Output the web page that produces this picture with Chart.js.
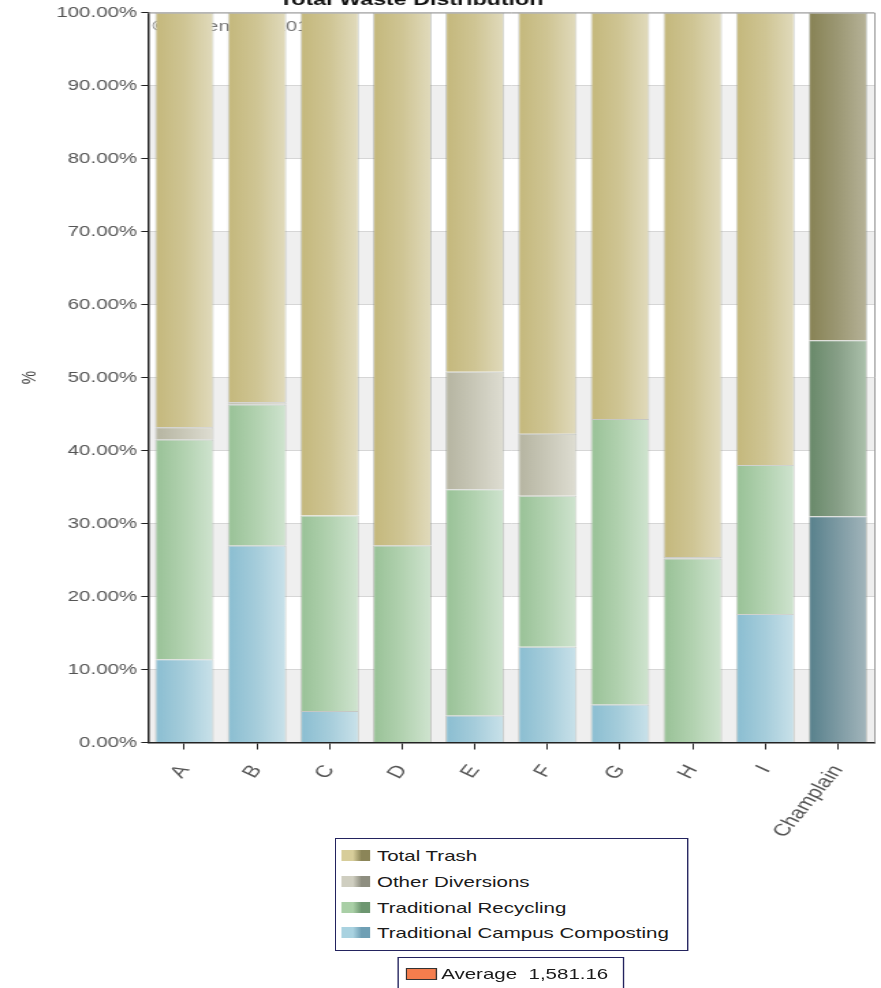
<!DOCTYPE html>
<html>
<head>
<meta charset="utf-8">
<script src="https://cdn.jsdelivr.net/npm/chart.js@4.4.1/dist/chart.umd.min.js"></script>
<style>
  html, body { margin:0; padding:0; background:#fff; overflow:hidden; }
  #wrap { position:absolute; left:0; top:0; width:645px; height:988px; transform:scaleX(1.36589); transform-origin:0 0; font-family:"Liberation Sans", Arial, sans-serif; }
  #c { position:absolute; left:0; top:0; }
  .box { position:absolute; background:#fff; border:1px solid #23235e; box-sizing:border-box; }
  .row { position:absolute; left:4px; height:20px; font-size:15px; color:#1a1a1a; white-space:nowrap; line-height:20px; }
  .sw { position:absolute; left:0; top:4px; width:21px; height:11px; }
  .lbl { position:absolute; left:26px; top:0; }
</style>
</head>
<body>
<div id="wrap">
  <canvas id="c" width="645" height="988" style="width:645px;height:988px"></canvas>
  <div id="legend" class="box" style="left:245px; top:838px; width:259px; height:113px;"></div>
  <div id="avg" class="box" style="left:291px; top:957px; width:166px; height:40px;"></div>
</div>
<script>
// ---------------- data ----------------
const titleText = 'Total Waste Distribution';
const watermarkText = '\u00A9 Green Inc. 2012';
const categories = ['A','B','C','D','E','F','G','H','I','Champlain'];
const seriesNames = ['Traditional Campus Composting','Traditional Recycling','Other Diversions','Total Trash'];
const composting = [11.4, 27.0, 4.3, 0, 3.7, 13.1, 5.2, 0, 17.6, 31.0];
const recycling  = [30.1, 19.3, 26.8, 27.0, 31.0, 20.7, 39.1, 25.2, 20.4, 24.1];
const other      = [1.7, 0.3, 0, 0, 16.1, 8.5, 0, 0.2, 0, 0];
const trash      = [56.8, 53.4, 68.9, 73.0, 49.2, 57.7, 55.7, 74.6, 62.0, 44.9];
const yTicks = [0,10,20,30,40,50,60,70,80,90,100];
const averageLabel = 'Average';
const averageValue = '1,581.16';

// ---------------- styling ----------------
const palettes = {
  compost: { normal:['#8dbfd2','#a6cddb','#cae2ea'], dark:['#5b838e','#7d9aa3','#a3b6bc'], legend:['#a9d2e0','#6f9fb4'] },
  recycle: { normal:['#9bc399','#b2d2b0','#d0e4d0'], dark:['#6b8b6c','#879f87','#adc2ad'], legend:['#a9cfa6','#6d9670'] },
  other:   { normal:['#b7b6a3','#c9c8b8','#dfded3'], dark:['#b7b6a3','#c9c8b8','#dfded3'], legend:['#cfcec0','#8e8e80'] },
  trash:   { normal:['#c5b97e','#cfc594','#e1dbbd'], dark:['#898457','#9c9874','#b7b399'], legend:['#d7cd9a','#8b8558'] }
};
const keys = ['compost','recycle','other','trash'];
const BAR_PCT = 0.81;

function barFill(key) {
  return function(ctx) {
    const chart = ctx.chart;
    const area = chart.chartArea;
    const pal = palettes[key][ctx.dataIndex === categories.length - 1 ? 'dark' : 'normal'];
    if (!area || ctx.dataIndex === undefined) return pal[1];
    const x = chart.scales.x.getPixelForValue(ctx.dataIndex);
    const w = area.width / categories.length * BAR_PCT;
    const g = chart.ctx.createLinearGradient(x - w/2, 0, x + w/2, 0);
    g.addColorStop(0, pal[1]);
    g.addColorStop(0.06, pal[0]);
    g.addColorStop(0.5, pal[1]);
    g.addColorStop(1, pal[2]);
    return g;
  };
}

const dataArrays = [composting, recycling, other, trash];
const datasets = dataArrays.map((arr, i) => ({
  label: seriesNames[i],
  data: arr,
  backgroundColor: barFill(keys[i]),
  borderColor: 'rgba(120,125,115,0.35)',
  borderWidth: c => (c.raw > 0 ? 1 : 0),
  barPercentage: BAR_PCT,
  categoryPercentage: 1.0
}));

const bandsPlugin = {
  id: 'bands',
  beforeDraw(chart) {
    const {ctx, chartArea:a, scales:{y}} = chart;
    ctx.save();
    ctx.fillStyle = '#efefef';
    for (let i = 0; i < yTicks.length - 1; i += 2) {
      const y0 = y.getPixelForValue(yTicks[i]);
      const y1 = y.getPixelForValue(yTicks[i+1]);
      ctx.fillRect(a.left, y1, a.right - a.left, y0 - y1);
    }
    ctx.restore();
  }
};
const watermarkPlugin = {
  id: 'watermark',
  beforeDatasetsDraw(chart) {
    const {ctx, chartArea:a} = chart;
    ctx.save();
    ctx.font = '15px "Liberation Sans", Arial, sans-serif';
    ctx.fillStyle = '#777';
    ctx.textBaseline = 'middle';
    ctx.textAlign = 'left';
    ctx.fillText(watermarkText, a.left + 3, a.top + 14);
    ctx.restore();
  }
};
const framePlugin = {
  id: 'frame',
  afterDraw(chart) {
    const {ctx, chartArea:a} = chart;
    ctx.save();
    ctx.strokeStyle = '#9a9a9a';
    ctx.lineWidth = 1;
    ctx.beginPath();
    ctx.moveTo(a.left, a.top + 0.5);
    ctx.lineTo(a.right + 0.5, a.top + 0.5);
    ctx.lineTo(a.right + 0.5, a.bottom);
    ctx.stroke();
    ctx.font = 'bold 17px "Liberation Sans", Arial, sans-serif';
    ctx.fillStyle = '#111';
    ctx.textAlign = 'center';
    ctx.textBaseline = 'alphabetic';
    ctx.fillText(titleText, 301, 4.5);
    ctx.restore();
  }
};

new Chart(document.getElementById('c'), {
  type: 'bar',
  data: { labels: categories, datasets },
  options: {
    responsive: false,
    maintainAspectRatio: false,
    devicePixelRatio: 1,
    animation: false,
    layout: { padding: { top: 12.5, right: 5, left: 0, bottom: 0 } },
    plugins: { legend: { display: false }, tooltip: { enabled: false }, title: { display: false } },
    scales: {
      x: {
        stacked: true,
        afterFit: s => { s.height = 245.5; },
        grid: { display: true, drawOnChartArea: false, offset: false, tickLength: 7, tickColor: '#222' },
        border: { display: true, color: '#222', width: 1.5 },
        ticks: { autoSkip: false, maxRotation: 58, minRotation: 58, padding: 12, color: '#555', font: { size: 17, family: '"Liberation Sans", Arial, sans-serif' } }
      },
      y: {
        stacked: true,
        min: 0, max: 100,
        afterFit: s => { s.width = 108.4; },
        afterBuildTicks: s => { s.ticks = yTicks.map(v => ({ value: v })); },
        grid: { color: '#d6d6d6', lineWidth: 1, tickLength: 5, tickColor: '#222' },
        border: { display: true, color: '#222', width: 1.5 },
        ticks: { padding: 3, color: '#555', font: { size: 15, family: '"Liberation Sans", Arial, sans-serif' }, callback: v => Number(v).toFixed(2) + '%' },
        title: { display: true, text: '%', color: '#444', padding: { top: 13, bottom: 0 }, font: { size: 15, family: '"Liberation Sans", Arial, sans-serif' } }
      }
    }
  },
  plugins: [bandsPlugin, watermarkPlugin, framePlugin]
});

// ---------------- HTML legend ----------------
const legend = document.getElementById('legend');
const order = [3, 2, 1, 0];
order.forEach((si, r) => {
  const row = document.createElement('div');
  row.className = 'row';
  row.style.top = (7 + r * 25.8) + 'px';
  const lg = palettes[keys[si]].legend;
  row.innerHTML = '<div class="sw" style="background:linear-gradient(to right,' + lg[0] + ' 0%,' + lg[0] + ' 40%,' + lg[1] + ' 70%,' + lg[1] + ' 100%)"></div><div class="lbl">' + seriesNames[si] + '</div>';
  legend.appendChild(row);
});
const avg = document.getElementById('avg');
avg.innerHTML = '<div class="row" style="top:6px;left:5px"><div class="sw" style="width:23px;height:12px;top:4px;background:#f47d4d;border:1px solid #333;box-sizing:border-box"></div><div class="lbl" style="left:26px">' + averageLabel + '&nbsp;&nbsp;' + averageValue + '</div></div>';
</script>
</body>
</html>
